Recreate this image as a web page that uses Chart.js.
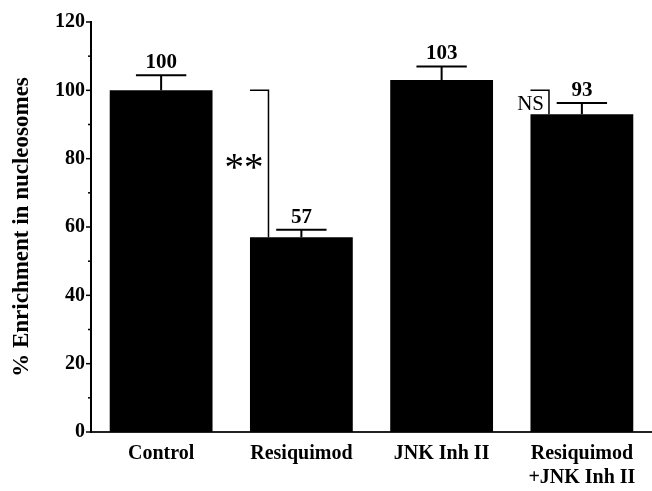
<!DOCTYPE html>
<html>
<head>
<meta charset="utf-8">
<script src="https://cdn.jsdelivr.net/npm/chart.js@4.4.1/dist/chart.umd.min.js"></script>
<style>
  html, body { margin: 0; padding: 0; background: #fff; overflow: hidden; }
  #wrap { width: 652px; height: 491px; }
</style>
</head>
<body>
<div id="wrap"><canvas id="chartEnrich"></canvas></div>
<script>
// data
const categories = ['Control', 'Resiquimod', 'JNK Inh II', ['Resiquimod', '+JNK Inh II']];
const enrichment = [100, 57, 103, 93];
const errorUp = [4.4, 2.2, 4, 3.3];
const valueLabels = ['100', '57', '103', '93'];
const sigLabels = ['', '**', '', 'NS'];
const sigReference = 100;   // bracket top = control level
const yMinorStep = 10;

const serif = '"Liberation Serif", "Times New Roman", serif';

// error bars, value labels, significance brackets, minor ticks
const annotatePlugin = {
    id: 'annotate',
    afterDatasetsDraw(chart) {
        const ctx = chart.ctx;
        const yScale = chart.scales.y;
        const meta = chart.getDatasetMeta(0);
        ctx.save();
        ctx.strokeStyle = '#000';
        ctx.fillStyle = '#000';
        ctx.lineWidth = 2;

        meta.data.forEach((bar, i) => {
            const cx = bar.x;
            const w = bar.width;
            const top = yScale.getPixelForValue(enrichment[i] + errorUp[i]);
            ctx.beginPath();
            ctx.moveTo(cx, bar.y);
            ctx.lineTo(cx, top);
            ctx.moveTo(cx - w * 0.245, top);
            ctx.lineTo(cx + w * 0.245, top);
            ctx.stroke();

            ctx.font = 'bold 21px ' + serif;
            ctx.textAlign = 'center';
            ctx.textBaseline = 'bottom';
            ctx.fillText(valueLabels[i], cx, top - 2);

            if (sigLabels[i]) {
                const left = cx - w / 2;
                const vx = left + w * 0.18;
                const refY = yScale.getPixelForValue(sigReference);
                ctx.lineWidth = 1.5;
                ctx.beginPath();
                ctx.moveTo(left, refY);
                ctx.lineTo(vx, refY);
                ctx.lineTo(vx, bar.y);
                ctx.stroke();
                ctx.lineWidth = 2;
                ctx.textAlign = 'right';
                ctx.textBaseline = 'middle';
                const isNS = sigLabels[i] === 'NS';
                ctx.font = (isNS ? '21px ' : '39px ') + serif;
                ctx.fillText(sigLabels[i], vx - 5, (refY + bar.y) / 2 + (isNS ? 2 : 6));
            }
        });

        // y axis tick marks, major every 20, minor every 10
        const axisX = chart.chartArea.left;
        ctx.lineWidth = 1.5;
        for (let v = yScale.min; v <= yScale.max; v += yMinorStep) {
            const py = yScale.getPixelForValue(v);
            const len = v % 20 === 0 ? 5 : 3;
            ctx.beginPath();
            ctx.moveTo(axisX - len, py);
            ctx.lineTo(axisX, py);
            ctx.stroke();
        }
        ctx.restore();
    }
};

new Chart(document.getElementById('chartEnrich'), {
    type: 'bar',
    data: {
        labels: categories,
        datasets: [{
            data: enrichment,
            backgroundColor: '#000',
            borderWidth: 0,
            barPercentage: 0.733,
            categoryPercentage: 1
        }]
    },
    options: {
        responsive: true,
        maintainAspectRatio: false,
        animation: false,
        layout: { padding: { top: 22, right: 0, left: 0, bottom: 0 } },
        plugins: {
            legend: { display: false },
            tooltip: { enabled: false }
        },
        scales: {
            x: {
                grid: { display: false, drawTicks: false },
                border: { display: true, color: '#222', width: 2 },
                ticks: {
                    color: '#000',
                    font: { family: serif, size: 20, weight: 'bold' },
                    padding: 10,
                    maxRotation: 0
                },
                afterFit(scale) { scale.height = 59; }
            },
            y: {
                min: 0,
                max: 120,
                grid: { display: false, drawTicks: false },
                border: { display: true, color: '#000', width: 2 },
                ticks: {
                    stepSize: 20,
                    color: '#000',
                    padding: 6,
                    font: { family: serif, size: 20, weight: 'bold' }
                },
                title: {
                    display: true,
                    text: '% Enrichment in nucleosomes',
                    color: '#000',
                    font: { family: serif, size: 23, weight: 'bold' },
                    padding: { top: 8, bottom: 0 }
                },
                afterFit(scale) { scale.width = 91; }
            }
        }
    },
    plugins: [annotatePlugin]
});
</script>
</body>
</html>
